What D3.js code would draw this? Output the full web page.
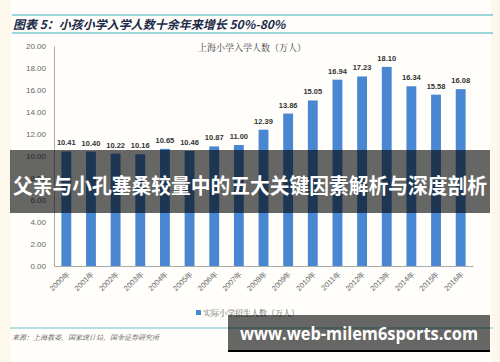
<!DOCTYPE html>
<html><head><meta charset="utf-8">
<script src="https://cdn.jsdelivr.net/npm/d3@7"></script>
<style>html,body{margin:0;padding:0;background:#fdf8ec;}svg{display:block;}</style>
</head><body>
<svg id="c" width="500" height="362"></svg>
<script>
const years = ["2000年","2001年","2002年","2003年","2004年","2005年","2006年","2007年","2008年","2009年","2010年","2011年","2012年","2013年","2014年","2015年","2016年"];
const enrolment = [10.41,10.40,10.22,10.16,10.65,10.46,10.87,11.00,12.39,13.86,15.05,16.94,17.23,18.10,16.34,15.58,16.08];
const yTicks = [0,2,4,6,8,10,12,14,16,18,20];
const figTitle = "图表 5：小孩小学入学人数十余年来增长 50%-80%";
const chartTitle = "上海小学入学人数（万人）";
const legendLabel = "实际小学招生人数（万人）";
const sourceText = "来源：上海教委，国家统计局，国金证券研究所";
const bannerText = "父亲与小孔塞桑较量中的五大关键因素解析与深度剖析";
const urlText = "www.web-milem6sports.com";

const svg = d3.select("#c");
const cjk = "'Noto Sans CJK SC', sans-serif";
const serifCjk = "'Noto Serif CJK SC','Noto Sans CJK SC', serif";

// white panel
svg.append("rect").attr("x",11).attr("y",0).attr("width",480).attr("height",362).attr("fill","#fffefb");
// title lines
svg.append("line").attr("x1",12).attr("x2",493).attr("y1",15).attr("y2",15).attr("stroke","#7cc8cf").attr("stroke-width",1.5);
svg.append("line").attr("x1",12).attr("x2",493).attr("y1",33).attr("y2",33).attr("stroke","#7cc8cf").attr("stroke-width",1.5);
svg.append("text").attr("x",13).attr("y",28.5).text(figTitle)
  .attr("font-family",cjk).attr("font-size",12).attr("font-weight","bold").attr("font-style","italic")
  .attr("fill","#1b2a48");

const x = d3.scaleBand().domain(years).range([54,473]).paddingInner(0.6).paddingOuter(0.3);
const y = d3.scaleLinear().domain([0,20]).range([266,46]);

// axes
const yAxis = svg.append("g").attr("transform","translate(54,0)")
  .call(d3.axisLeft(y).tickValues(yTicks).tickFormat(d3.format(".2f")).tickSize(0).tickPadding(8));
yAxis.select(".domain").attr("stroke","#a9a9a9");
yAxis.selectAll("text").attr("font-family","Arial, 'Liberation Sans', sans-serif").attr("font-size",8).attr("fill","#666");

const xAxis = svg.append("g").attr("transform","translate(0,266)")
  .call(d3.axisBottom(x).tickSize(0).tickPadding(0));
xAxis.select(".domain").attr("stroke","#a9a9a9").attr("stroke-width",1.2);
xAxis.selectAll("text")
  .attr("font-family","Arial, 'Liberation Sans', sans-serif").attr("font-size",7.5).attr("fill","#666")
  .attr("text-anchor","end").attr("dy",0)
  .attr("transform","translate(4,8) rotate(-45)");

// bars
svg.append("g").selectAll("rect").data(enrolment).join("rect")
  .attr("x",(d,i)=>x(years[i])).attr("width",x.bandwidth())
  .attr("y",d=>y(d)).attr("height",d=>y(0)-y(d)).attr("fill","#4a87d2");

svg.append("g").selectAll("text").data(enrolment).join("text")
  .attr("x",(d,i)=>x(years[i])+x.bandwidth()/2).attr("y",d=>y(d)-6)
  .attr("text-anchor","middle").attr("font-family","Arial, 'Liberation Sans', sans-serif")
  .attr("font-size",7.5).attr("font-weight","bold").attr("fill","#333").text(d=>d3.format(".2f")(d));

// chart title
svg.append("text").attr("x",252).attr("y",51).attr("text-anchor","middle").text(chartTitle)
  .attr("font-family",serifCjk).attr("font-size",9).attr("fill","#333");

// legend
svg.append("rect").attr("x",196).attr("y",310).attr("width",5).attr("height",5).attr("fill","#4a87d2");
svg.append("text").attr("x",203).attr("y",316).text(legendLabel)
  .attr("font-family",serifCjk).attr("font-size",8).attr("fill","#666");

// source
svg.append("line").attr("x1",10).attr("x2",493).attr("y1",328).attr("y2",328).attr("stroke","#9dd4d8").attr("stroke-width",1.5);
svg.append("text").attr("x",12).attr("y",340).text(sourceText)
  .attr("font-family",serifCjk).attr("font-size",7).attr("font-style","italic").attr("fill","#444");

// banner overlay
svg.append("rect").attr("x",10).attr("y",150).attr("width",480).attr("height",63).attr("fill","#000").attr("opacity",0.6);
svg.append("text").attr("x",250).attr("y",193).attr("text-anchor","middle").text(bannerText)
  .attr("font-family",cjk).attr("font-size",21).attr("font-weight","bold").attr("fill","#fff")
  .attr("textLength",474).attr("lengthAdjust","spacingAndGlyphs");

// url overlay
svg.append("rect").attr("x",228).attr("y",315).attr("width",262).attr("height",36).attr("fill","#000").attr("opacity",0.6);
svg.append("rect").attr("x",228).attr("y",350).attr("width",262).attr("height",2).attr("fill","#000");
svg.append("text").attr("x",359).attr("y",340).attr("text-anchor","middle").text(urlText)
  .attr("font-family","'Open Sans', 'DejaVu Sans', sans-serif").attr("font-size",18).attr("font-weight","bold").attr("fill","#fff")
  .attr("textLength",238).attr("lengthAdjust","spacingAndGlyphs");
</script>
</body></html>
